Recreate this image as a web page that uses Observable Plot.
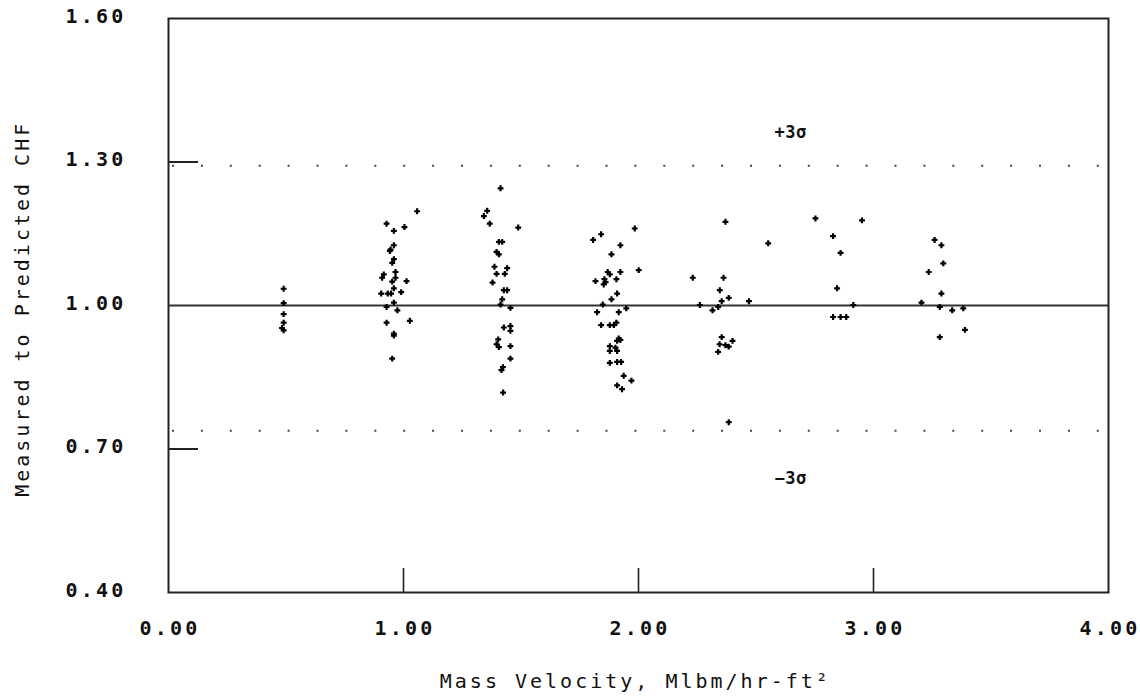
<!DOCTYPE html>
<html>
<head>
<meta charset="utf-8">
<script src="https://cdn.jsdelivr.net/npm/d3@7"></script>
<script src="https://cdn.jsdelivr.net/npm/@observablehq/plot@0.6"></script>
<style>
  html, body { margin: 0; padding: 0; background: #fff; }
  #chart svg { display: block; }
</style>
</head>
<body>
<div id="chart"></div>
<script>
// Mass velocity (Mlbm/hr-ft²) for each test point
const massVelocity = [
  // ~0.5
  0.49, 0.49, 0.49, 0.49, 0.483, 0.49,
  // ~1.0
  1.058, 0.928, 1.004, 0.959, 0.959, 0.945, 0.942, 0.959, 0.952, 0.966, 0.916, 0.909, 0.966, 0.952,
  1.013, 0.959, 0.990, 0.905, 0.933, 0.947, 0.959, 0.928, 0.974, 1.027, 0.928, 0.959, 0.959, 0.952,
  // ~1.4
  1.413, 1.356, 1.342, 1.367, 1.488, 1.406, 1.420, 1.396, 1.406, 1.387, 1.441, 1.396, 1.431, 1.379,
  1.427, 1.441, 1.420, 1.413, 1.455, 1.427, 1.455, 1.455, 1.403, 1.396, 1.406, 1.455, 1.455, 1.423,
  1.417, 1.424,
  // ~1.9
  1.984, 1.841, 1.807, 1.923, 1.885, 2.001, 1.869, 1.878, 1.923, 1.817, 1.855, 1.860, 1.852, 1.906,
  1.909, 1.885, 1.848, 1.824, 1.916, 1.948, 1.841, 1.878, 1.895, 1.906, 1.916, 1.923, 1.909, 1.878,
  1.902, 1.878, 1.909, 1.878, 1.909, 1.926, 1.937, 1.970, 1.909, 1.930,
  // ~2.35
  2.370, 2.552, 2.231, 2.362, 2.346, 2.384, 2.354, 2.470, 2.261, 2.339, 2.315, 2.354, 2.400, 2.345,
  2.370, 2.384, 2.339, 2.384,
  // ~2.85
  2.753, 2.951, 2.828, 2.860, 2.845, 2.914, 2.828, 2.860, 2.884,
  // ~3.3
  3.260, 3.289, 3.297, 3.235, 3.289, 3.204, 3.282, 3.335, 3.382, 3.389, 3.282
];

// Measured-to-predicted CHF ratio for each test point
const ratioCHF = [
  1.035, 1.005, 0.982, 0.964, 0.953, 0.948,
  1.197, 1.171, 1.164, 1.156, 1.126, 1.117, 1.114, 1.097, 1.089, 1.070, 1.065, 1.058, 1.058, 1.050,
  1.051, 1.036, 1.028, 1.025, 1.025, 1.025, 1.006, 0.997, 0.990, 0.968, 0.964, 0.941, 0.937, 0.889,
  1.245, 1.198, 1.187, 1.171, 1.163, 1.133, 1.133, 1.112, 1.107, 1.081, 1.078, 1.066, 1.066, 1.048,
  1.032, 1.032, 1.013, 1.002, 0.995, 0.954, 0.957, 0.947, 0.929, 0.919, 0.913, 0.915, 0.889, 0.871,
  0.865, 0.818,
  1.161, 1.149, 1.137, 1.126, 1.107, 1.074, 1.070, 1.065, 1.070, 1.051, 1.055, 1.049, 1.044, 1.055,
  1.025, 1.013, 1.002, 0.986, 0.986, 0.994, 0.959, 0.959, 0.959, 0.964, 0.931, 0.928, 0.926, 0.915,
  0.912, 0.905, 0.905, 0.880, 0.882, 0.882, 0.853, 0.843, 0.833, 0.825,
  1.175, 1.130, 1.058, 1.058, 1.032, 1.016, 1.009, 1.009, 1.001, 0.997, 0.990, 0.934, 0.926, 0.919,
  0.917, 0.914, 0.903, 0.756,
  1.182, 1.178, 1.145, 1.110, 1.036, 1.001, 0.976, 0.976, 0.976,
  1.137, 1.126, 1.088, 1.070, 1.025, 1.006, 0.997, 0.990, 0.994, 0.949, 0.934
];

const xTicks = [0, 1, 2, 3, 4];
const xTickLabels = ["0.00", "1.00", "2.00", "3.00", "4.00"];
const yTicks = [0.40, 0.70, 1.00, 1.30, 1.60];
const yTickLabels = ["0.40", "0.70", "1.00", "1.30", "1.60"];
const yTickMarks = [0.70, 1.30];
const xTickMarks = [1, 2, 3];
const sigmaLimits = [1.292, 0.738];
const sigmaLabels = ["+3σ", "−3σ"];
const sigmaLabelX = [2.647, 2.647];
const sigmaLabelY = [1.362, 0.638];
const meanRatio = [1.00];
const xTitle = "Mass Velocity, Mlbm/hr-ft²";
const yTitle = "Measured to Predicted CHF";

const monoFont = "'DejaVu Sans Mono', 'Liberation Mono', monospace";

const chart = Plot.plot({
  width: 1140,
  height: 698,
  marginLeft: 168,
  marginRight: 32,
  marginTop: 18,
  marginBottom: 106,
  style: { fontFamily: monoFont, background: "#fff", color: "#111", overflow: "visible" },
  x: { type: "linear", domain: [0, 4], axis: null },
  y: { type: "linear", domain: [0.4, 1.6], axis: null },
  marks: [
    // +/- 3 sigma dotted limits
    Plot.ruleY(sigmaLimits, { stroke: "#444", strokeWidth: 2, strokeDasharray: "2 26.9", strokeDashoffset: -4 }),
    // mean line
    Plot.ruleY(meanRatio, { stroke: "#333", strokeWidth: 2 }),
    // inner y tick marks (short stubs from the left border)
    Plot.ruleY(yTickMarks, { x1: 0, x2: 30 / 235, stroke: "#222", strokeWidth: 2 }),
    // x tick marks (inward from bottom)
    Plot.ruleX(xTickMarks, { y1: 0.4, y2: 0.4 + 24 / 478.3, stroke: "#222", strokeWidth: 1.6 }),
    // frame
    Plot.frame({ stroke: "#222", strokeWidth: 2 }),
    // data points
    Plot.dot(massVelocity, { x: massVelocity, y: ratioCHF, symbol: "plus", r: 2.05, stroke: "#000", strokeWidth: 2.2 }),
    // tick labels
    Plot.text(xTickLabels, { x: xTicks, y: xTicks.map(() => 0.4), text: xTickLabels, dx: 1.6, dy: 36, fontSize: 20, fontWeight: "bold", fill: "#111" }),
    Plot.text(yTickLabels, { y: yTicks, x: yTicks.map(() => 0), text: yTickLabels, dx: -42, dy: -2, textAnchor: "end", fontSize: 20, fontWeight: "bold", fill: "#111" }),
    // sigma labels
    Plot.text(sigmaLabels, { x: sigmaLabelX, y: sigmaLabelY, text: sigmaLabels, fontSize: 17, fontWeight: "bold", fill: "#111" }),
    // axis titles
    Plot.text([xTitle], { x: [1.98], y: [0.4], text: [xTitle], dx: 1.5, dy: 89, fontSize: 20, fill: "#111" }),
    Plot.text([yTitle], { x: [0], y: [0.99], text: [yTitle], dx: -146, dy: -1.5, rotate: -90, fontSize: 20, fill: "#111" })
  ]
});

// letter spacing per text mark, in mark order
const spacings = ["3.2px", "3.2px", "0.5px", "3px", "3px"];
d3.select(chart).selectAll('g[aria-label="text"]').each(function(_, i) {
  if (spacings[i]) this.style.letterSpacing = spacings[i];
});

document.getElementById("chart").appendChild(chart);
</script>
</body>
</html>
